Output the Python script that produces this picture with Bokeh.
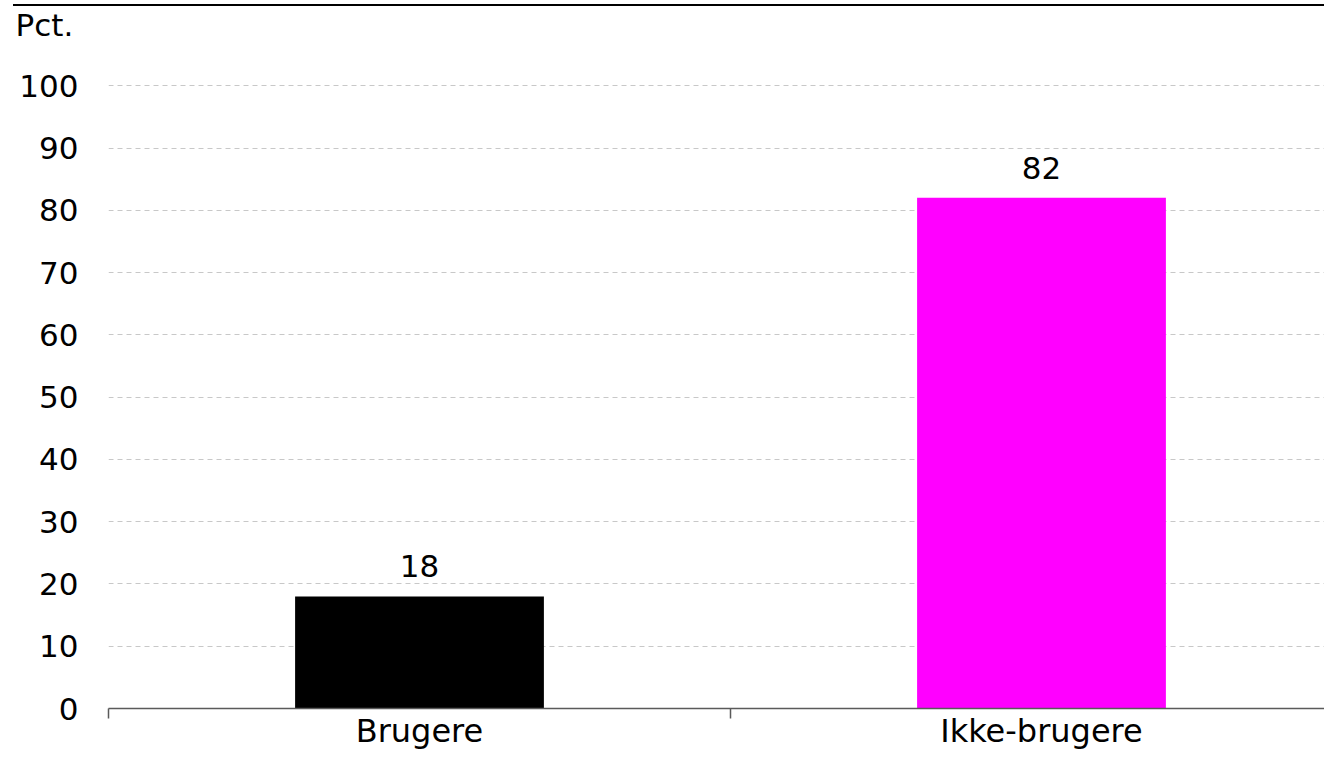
from bokeh.plotting import figure
from bokeh.models import (Range1d, FixedTicker, CustomJSTickFormatter, ColumnDataSource)
from bokeh.core.properties import value
from bokeh.embed import file_html
from bokeh.resources import INLINE

categories = ["Brugere", "Ikke-brugere"]
values = [18, 82]
colors = ["#000000", "#ff00ff"]
y_ticks = [0, 10, 20, 30, 40, 50, 60, 70, 80, 90, 100]
unit_label = "Pct."

FONT = "DejaVu Sans"
FS_NUM = "31px"
FS_CAT = "32px"

n = len(categories)
xs = [i + 0.5 for i in range(n)]
src = ColumnDataSource(dict(x=xs, top=values, color=colors,
                            label=[str(v) for v in values]))

p = figure(width=1324, height=752, output_backend="svg", toolbar_location=None,
           x_range=Range1d(0, 1.955), y_range=Range1d(0, 106.3),
           min_border_left=108, min_border_right=0, min_border_top=0,
           min_border_bottom=44, title=unit_label)
p.outline_line_color = None
p.background_fill_color = "white"
p.border_fill_color = None
p.styles = {"background": "linear-gradient(#000, #000) 13px 4px / 1311px 2px no-repeat, #ffffff"}

p.title.align = "left"
p.title.offset = -93
p.title.text_font = FONT
p.title.text_font_size = FS_NUM
p.title.text_font_style = "normal"
p.title.text_color = "black"
p.title.standoff = 8

p.vbar(x="x", top="top", width=0.4, color="color", line_color=None, source=src)
p.text(x="x", y="top", text="label", source=src, text_align="center",
       text_baseline="alphabetic", y_offset=-30, text_font=value(FONT),
       text_font_size=FS_NUM, text_color="black")

# x axis
xa = p.xaxis[0]
xa.ticker = FixedTicker(ticks=xs, minor_ticks=list(range(n + 1)))
xa.formatter = CustomJSTickFormatter(args=dict(labels=categories),
                                     code="return labels[Math.floor(tick)];")
xa.axis_line_color = "#5a5a5a"
xa.axis_line_width = 1.5
xa.major_tick_line_color = None
xa.major_tick_out = 0
xa.major_tick_in = 0
xa.minor_tick_line_color = "#5a5a5a"
xa.minor_tick_line_width = 1.5
xa.minor_tick_out = 10
xa.minor_tick_in = 0
xa.major_label_standoff = -7
xa.major_label_text_font = FONT
xa.major_label_text_font_size = FS_CAT
xa.major_label_text_color = "black"

# y axis
ya = p.yaxis[0]
ya.ticker = FixedTicker(ticks=y_ticks)
ya.axis_line_color = None
ya.major_tick_line_color = None
ya.minor_tick_line_color = None
ya.major_tick_out = 0
ya.major_tick_in = 0
ya.major_label_standoff = 30
ya.major_label_text_font = FONT
ya.major_label_text_font_size = FS_NUM
ya.major_label_text_color = "black"

p.xgrid.grid_line_color = None
p.ygrid.grid_line_color = "#c8c8c8"
p.ygrid.grid_line_dash = "5 4"
p.ygrid.grid_line_width = 1

open("out.html", "w").write(file_html(p, INLINE))
